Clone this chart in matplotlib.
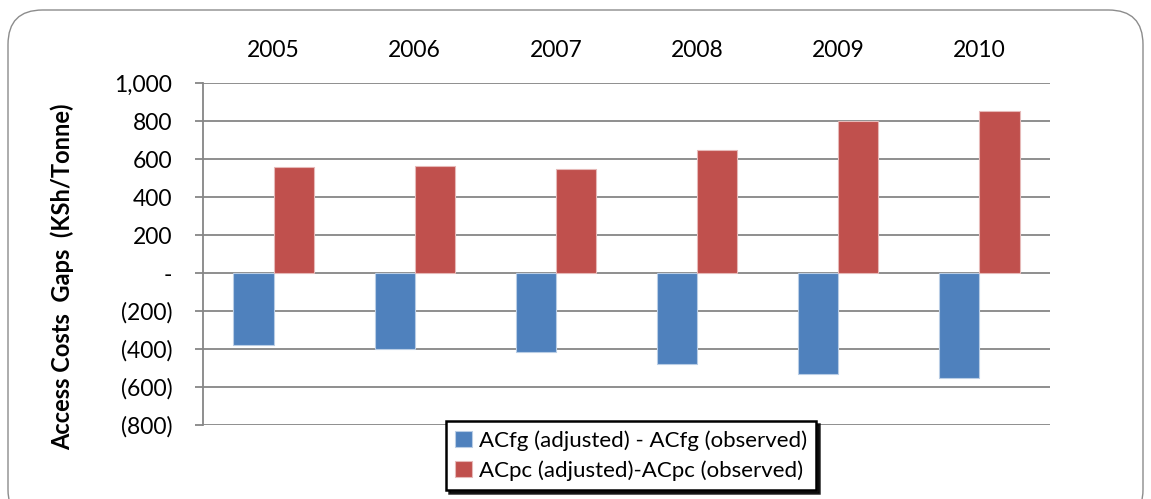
import matplotlib
matplotlib.use("Agg")
import matplotlib.pyplot as plt
import numpy as np
from matplotlib.patches import FancyBboxPatch
from matplotlib.ticker import FixedLocator, FuncFormatter

years = ["2005", "2006", "2007", "2008", "2009", "2010"]
acfg_gap = [-377, -400, -418, -479, -530, -553]
acpc_gap = [556, 563, 549, 649, 800, 854]
series_labels = ["ACfg (adjusted) - ACfg (observed)", "ACpc (adjusted)-ACpc (observed)"]
y_label = "Access Costs  Gaps  (KSh/Tonne)"
y_ticks = [-800, -600, -400, -200, 0, 200, 400, 600, 800, 1000]

plt.rcParams['font.family'] = ['Lato', 'DejaVu Sans']

fig = plt.figure(figsize=(11.51, 4.99), dpi=100)

# rounded chart border
border = FancyBboxPatch((8/1151, -0.05), 1135/1151, 1 - 10/499 + 0.05,
                        boxstyle="round,pad=0,rounding_size=0.03",
                        transform=fig.transFigure, facecolor="white",
                        edgecolor="#8c8c8c", linewidth=1.0, zorder=-10,
                        mutation_aspect=1151/499)
fig.patches.append(border)

ax = fig.add_axes([203/1151, 1 - 425/499, 847/1151, (425 - 83)/499])
ax.set_facecolor("none")
ax.set_zorder(1)

x = np.arange(len(years))
w = 0.284
ax.bar(x - w/2, acfg_gap, width=w, color="#4F81BD", edgecolor="#b9cde5",
       linewidth=0.8, label=series_labels[0], zorder=3)
ax.bar(x + w/2, acpc_gap, width=w, color="#C0504D", edgecolor="#e6b9b8",
       linewidth=0.8, label=series_labels[1], zorder=3)

ax.set_xlim(-0.5, len(years) - 0.5)
ax.set_ylim(-800, 1000)
ax.yaxis.set_major_locator(FixedLocator(y_ticks))

def fmt(v, pos):
    v = int(round(v))
    if v == 0:
        return "-"
    if v < 0:
        return "({:,})".format(-v)
    return "{:,}".format(v)

ax.yaxis.set_major_formatter(FuncFormatter(fmt))
ax.grid(axis="y", color="#868686", linewidth=1.3, zorder=1)
ax.set_axisbelow(True)

for s in ["top", "right", "bottom"]:
    ax.spines[s].set_visible(False)
ax.spines["left"].set_color("#868686")
ax.spines["left"].set_linewidth(1.3)

ax.tick_params(axis="y", length=6, width=1.3, color="#868686", pad=16,
               labelsize=16.5, labelcolor="black")
ax.xaxis.tick_top()
ax.set_xticks(x)
ax.set_xticklabels(years)
ax.tick_params(axis="x", length=0, pad=16, labelsize=16.5, labelcolor="black")

fig.text(62/1151, 1 - 277/499, y_label, rotation=90, ha="center", va="center",
         fontsize=17, fontweight="bold", zorder=5)

leg = fig.legend(loc="lower left", bbox_to_anchor=(446/1151, 1 - 490/499),
                 bbox_transform=fig.transFigure, borderaxespad=0,
                 frameon=True, fancybox=False,
                 shadow={"color": "black", "alpha": 0.85},
                 fontsize=16, handlelength=0.75, handleheight=0.75,
                 handletextpad=0.3, labelspacing=0.42, borderpad=0.42)
leg.get_frame().set_edgecolor("black")
leg.get_frame().set_linewidth(1.8)
leg.set_zorder(10)

fig.savefig("out.png", dpi=100)
